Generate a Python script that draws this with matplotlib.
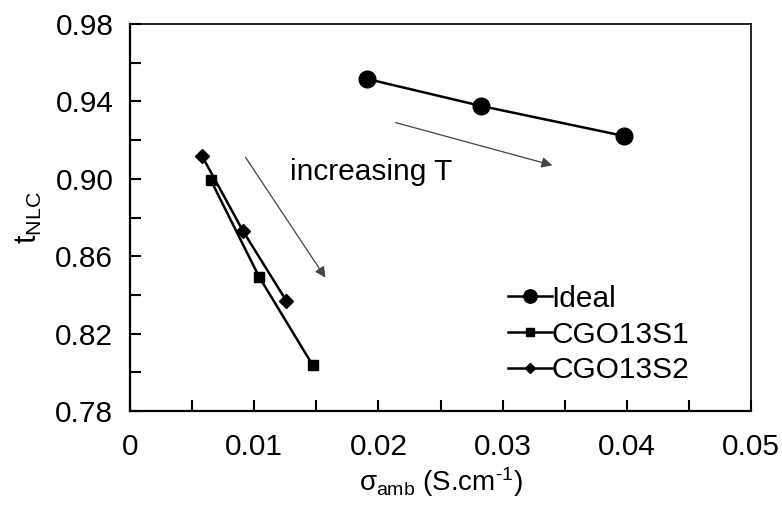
import numpy as np
import matplotlib.pyplot as plt

plt.rcParams['font.family'] = ['Liberation Sans', 'DejaVu Sans']
plt.rcParams['mathtext.fontset'] = 'custom'
plt.rcParams['mathtext.rm'] = 'Liberation Sans'
plt.rcParams['mathtext.it'] = 'Liberation Sans'

# data
ideal_x = [0.0191, 0.0283, 0.0398]
ideal_y = [0.9516, 0.9376, 0.9221]
s1_x = [0.0065, 0.0104, 0.0147]
s1_y = [0.8994, 0.8493, 0.8038]
s2_x = [0.0058, 0.0091, 0.0126]
s2_y = [0.9118, 0.8730, 0.8368]

x_ticks = [0, 0.01, 0.02, 0.03, 0.04, 0.05]
x_tick_labels = ['0', '0.01', '0.02', '0.03', '0.04', '0.05']
y_ticks = [0.78, 0.82, 0.86, 0.90, 0.94, 0.98]
y_tick_labels = ['0.78', '0.82', '0.86', '0.90', '0.94', '0.98']

fig = plt.figure(figsize=(7.82, 5.07), dpi=100)
ax = fig.add_axes([0.1662, 0.1893, 0.7942, 0.7634])

ax.plot(ideal_x, ideal_y, '-o', color='black', lw=1.8, ms=12, label='Ideal', zorder=3)
ax.plot(s1_x, s1_y, '-s', color='black', lw=1.8, ms=7.5, label='CGO13S1', zorder=3)
ax.plot(s2_x, s2_y, '-D', color='black', lw=1.8, ms=7, label='CGO13S2', zorder=3)

# arrows showing temperature direction
arrow_style = dict(arrowstyle='-|>', color='#444444', lw=0.9, mutation_scale=16)
ax.annotate('', xy=(0.01586, 0.8477), xytext=(0.00918, 0.9123), arrowprops=arrow_style)
ax.annotate('', xy=(0.03422, 0.9066), xytext=(0.02118, 0.9294), arrowprops=arrow_style)
ax.text(0.0129, 0.9035, 'increasing T', fontsize=21.5, va='center', ha='left')

ax.set_xlim(0, 0.05)
ax.set_ylim(0.78, 0.98)
ax.set_xticks(x_ticks)
ax.set_xticklabels(x_tick_labels)
ax.set_xticks(np.arange(0.005, 0.05, 0.01), minor=True)
ax.set_yticks(y_ticks)
ax.set_yticklabels(y_tick_labels)
ax.set_yticks(np.arange(0.80, 0.98, 0.04), minor=True)

ax.tick_params(which='both', direction='in', length=8, width=1.5, labelsize=21.5,
               top=False, right=False)
ax.tick_params(axis='y', which='both', pad=12)
ax.tick_params(axis='x', which='both', pad=16)
for side in ['left', 'bottom']:
    ax.spines[side].set_linewidth(1.6)
for side in ['top', 'right']:
    ax.spines[side].set_linewidth(1.2)

ax.set_xlabel(r'$\sigma_{\mathrm{amb}}$ (S.cm$^{\text{-1}}$)', fontsize=20, labelpad=3)
ax.set_ylabel(r'$\mathrm{t}_{\mathrm{NLC}}$', fontsize=22, labelpad=8)

ax.legend(loc='lower right', bbox_to_anchor=(0.92, 0.038), frameon=False, fontsize=21.5,
          handlelength=1.45, handletextpad=0.0, labelspacing=0.26, markerscale=0.8,
          borderaxespad=0)

fig.savefig('out.png', dpi=100)
